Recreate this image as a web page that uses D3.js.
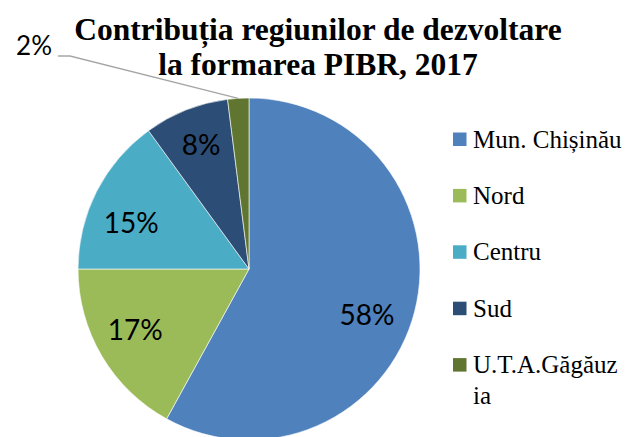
<!DOCTYPE html>
<html>
<head>
<meta charset="utf-8">
<script src="https://cdn.jsdelivr.net/npm/d3@7"></script>
<style>
  body { margin: 0; background: #fff; }
  svg { display: block; }
</style>
</head>
<body>
<svg id="chart"></svg>
<script>
// data
const regions = ["Mun. Chișinău", "Nord", "Centru", "Sud", "U.T.A.Găgăuzia"]
const shares = [58, 17, 15, 8, 2]
const legendLines = [["Mun. Chișinău"], ["Nord"], ["Centru"], ["Sud"], ["U.T.A.Găgăuz", "ia"]]
const titleLines = ["Contribuția regiunilor de dezvoltare", "la formarea PIBR, 2017"]
const colors = ["#4F81BD", "#9BBB59", "#4BACC6", "#2C4D75", "#5F7530"]

const width = 634, height = 437
const cx = 249, cy = 269, radius = 171

const serif = "Liberation Serif"
const sans = "Lato"

const svg = d3.select("#chart")
    .attr("width", width)
    .attr("height", height)

// title
svg.append("text")
    .attr("text-anchor", "middle")
    .attr("font-family", serif)
    .attr("font-weight", "bold")
    .attr("font-size", 31.5)
    .attr("fill", "#000")
    .selectAll("tspan")
    .data(titleLines)
    .join("tspan")
    .attr("x", 318)
    .attr("y", (d, i) => 40 + i * 34.5)
    .text(d => d)

const data = regions.map((r, i) => ({ region: r, value: shares[i] }))

const color = d3.scaleOrdinal()
    .domain(regions)
    .range(colors)

const pie = d3.pie()
    .sort(null)
    .value(d => d.value)

const arc = d3.arc()
    .innerRadius(0)
    .outerRadius(radius)

// labels sit at about 3/4 of the radius
const labelArc = d3.arc()
    .innerRadius(radius * 0.76)
    .outerRadius(radius * 0.76)

// small best-fit nudges like excel does
const nudge = [[-8, 14], [-2, -5], [-2, 13], [0, -3]]

const g = svg.append("g")
    .attr("transform", `translate(${cx}, ${cy})`)

const arcs = pie(data)

g.selectAll("path")
    .data(arcs)
    .join("path")
    .attr("d", arc)
    .attr("fill", d => color(d.data.region))
    .attr("stroke", "#fff")
    .attr("stroke-width", 0.6)

// inner labels (all but the tiny slice)
g.selectAll("text.inner")
    .data(arcs.filter(d => d.data.value >= 5))
    .join("text")
    .attr("class", "inner")
    .attr("transform", (d, i) => {
        const c = labelArc.centroid(d)
        return `translate(${c[0] + nudge[i][0]}, ${c[1] + nudge[i][1]})`
    })
    .attr("text-anchor", "middle")
    .attr("dy", "0.36em")
    .attr("font-family", sans)
    .attr("font-size", 28)
    .attr("fill", "#000")
    .text(d => d.data.value + "%")

// outside label with leader line for the small slice
const small = arcs.filter(d => d.data.value < 5)
const edgeArc = d3.arc().innerRadius(radius).outerRadius(radius)
small.forEach(d => {
    const p = edgeArc.centroid(d)
    const elbow = [-179, -213]
    const end = [elbow[0] - 12, elbow[1]]
    g.append("polyline")
        .attr("points", [p, elbow, end].map(q => q.join(",")).join(" "))
        .attr("fill", "none")
        .attr("stroke", "#A6A6A6")
        .attr("stroke-width", 1.3)
    g.append("text")
        .attr("x", end[0] - 6)
        .attr("y", end[1] - 1)
        .attr("text-anchor", "end")
        .attr("font-family", sans)
        .attr("font-size", 26)
        .attr("fill", "#000")
        .text(d.data.value + "%")
})

// legend
const legend = svg.append("g")
    .attr("transform", "translate(453, 132.5)")

const item = legend.selectAll("g")
    .data(regions)
    .join("g")
    .attr("transform", (d, i) => `translate(0, ${i * 56.4})`)

item.append("rect")
    .attr("width", 13.5)
    .attr("height", 13.5)
    .attr("fill", d => color(d))

item.append("text")
    .attr("font-family", serif)
    .attr("font-size", 25)
    .attr("fill", "#000")
    .selectAll("tspan")
    .data((d, i) => legendLines[i])
    .join("tspan")
    .attr("x", 20)
    .attr("y", (d, i) => 15 + i * 31)
    .text(d => d)
</script>
</body>
</html>
